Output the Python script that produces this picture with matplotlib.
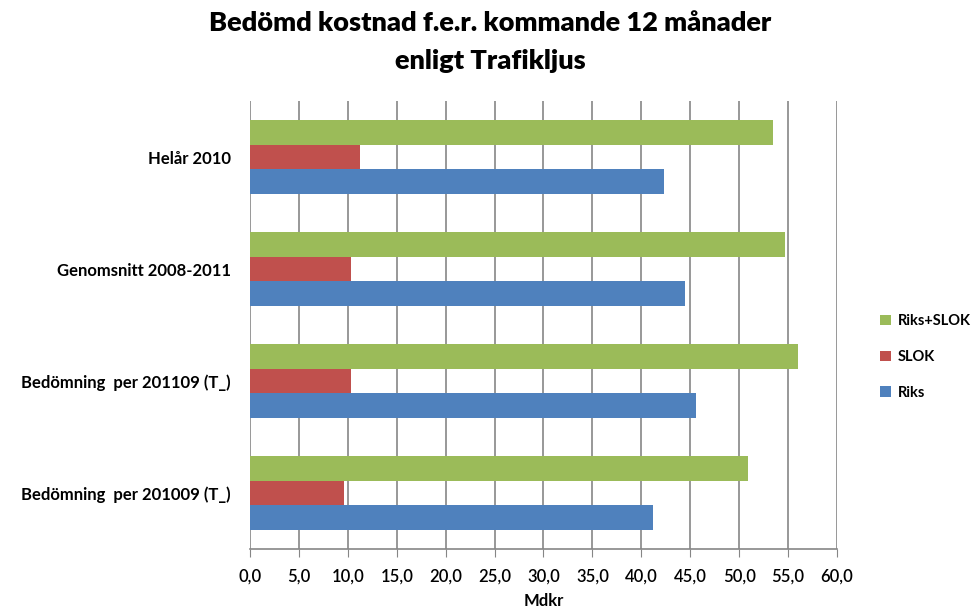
import matplotlib
matplotlib.use("Agg")
import matplotlib.pyplot as plt
import numpy as np

categories = ["Helår 2010", "Genomsnitt 2008-2011", "Bedömning  per 201109 (T_)", "Bedömning  per 201009 (T_)"]
riks_slok = [53.5, 54.7, 56.0, 50.9]
slok = [11.2, 10.3, 10.3, 9.6]
riks = [42.3, 44.5, 45.6, 41.2]
xticks = [0, 5, 10, 15, 20, 25, 30, 35, 40, 45, 50, 55, 60]
xticklabels = ["0,0", "5,0", "10,0", "15,0", "20,0", "25,0", "30,0", "35,0", "40,0", "45,0", "50,0", "55,0", "60,0"]

plt.rcParams['font.family'] = ['Lato', 'DejaVu Sans']

fig = plt.figure(figsize=(9.76, 6.11), dpi=100)
ax = fig.add_axes([250/976, 62/611, 587/976, 448/611])

y = np.arange(len(categories))
h = 0.22
ax.barh(y - h, riks_slok, height=h, color="#9BBB59", label="Riks+SLOK", zorder=3)
ax.barh(y, slok, height=h, color="#C0504D", label="SLOK", zorder=3)
ax.barh(y + h, riks, height=h, color="#4F81BD", label="Riks", zorder=3)

ax.set_ylim(len(categories) - 0.5, -0.5)
ax.set_xlim(0, 60)
ax.set_xticks(xticks)
ax.set_xticklabels(xticklabels, fontsize=12, fontweight='semibold')
ax.set_yticks(y)
ax.set_yticklabels(categories, fontsize=12, fontweight='bold')
ax.tick_params(axis='y', length=0, pad=14)
ax.tick_params(axis='x', length=6, color="#868686", pad=8)
ax.grid(axis='x', color="#868686", linewidth=1.2, zorder=0)
for s in ['top', 'right', 'left']:
    ax.spines[s].set_visible(False)
ax.spines['bottom'].set_color("#868686")
ax.spines['bottom'].set_linewidth(1.2)
ax.set_xlabel("Mdkr", fontsize=12, fontweight='bold', labelpad=6)

fig.suptitle("Bedömd kostnad f.e.r. kommande 12 månader\nenligt Trafikljus", fontsize=19.5,
             fontweight='heavy', x=0.502, y=0.982, va='top', linespacing=1.7)

leg = fig.legend(loc='center left', bbox_to_anchor=(880/976, 1 - 357/611), frameon=False,
                 prop={'size': 10.5, 'weight': 'bold'}, handlelength=0.75, handleheight=0.75,
                 labelspacing=1.5, handletextpad=0.45, borderpad=0, borderaxespad=0)

fig.savefig("out.png", dpi=100)
